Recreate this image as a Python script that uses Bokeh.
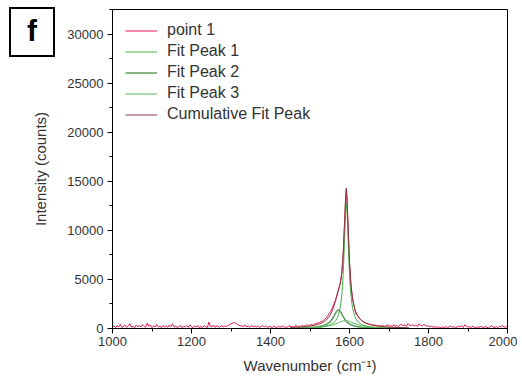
import numpy as np
from bokeh.plotting import figure
from bokeh.layouts import column
from bokeh.models import (SingleIntervalTicker, Range1d, Legend, LegendItem, Div)
from bokeh.embed import file_html
from bokeh.resources import INLINE

spec_x = np.arange(1000, 2001, 4)
spec_y = [
    120, 260, 80, 310, 150, 420, 90, 200, 340, 110,
    270, 480, 130, 220, 90, 350, 180, 300, 140, 390,
    210, 120, 560, 240, 330, 100, 280, 170, 410, 150,
    230, 90, 300, 160, 270, 120, 360, 200, 480, 140,
    250, 100, 190, 320, 80, 230, 150, 290, 110, 380,
    170, 90, 260, 140, 310, 70, 200, 120, 280, 180,
    90, 650, 220, 150, 340, 110, 260, 200, 130, 300,
    160, 240, 210, 300, 380, 470, 560, 610, 540, 420,
    330, 250, 280, 190, 350, 160, 240, 120, 300, 180,
    230, 140, 270, 100, 210, 320, 150, 260, 90, 200,
    170, 110, 240, 150, 80, 220, 130, 190, 260, 100,
    180, 120, 300, 160, 210, 90, 340, 180, 250, 200,
    310, 230, 280, 400, 260, 350, 420, 330, 470, 520,
    560, 620, 700, 780, 900, 1050, 1250, 1480, 1750, 2050,
    2450, 2850, 3400, 4000, 4500, 5500, 7600, 11300, 14300, 10900,
    6800, 4400, 3000, 2250, 1500, 1350, 1050, 900, 760, 640,
    580, 500, 470, 390, 420, 330, 360, 280, 310, 240,
    260, 330, 190, 280, 350, 220, 310, 180, 400, 250,
    300, 200, 360, 440, 270, 380, 230, 500, 320, 270,
    410, 240, 350, 190, 480, 300, 260, 420, 330, 220,
    280, 150, 240, 120, 200, 90, 180, 130, 60, 150,
    110, 200, 80, 170, 250, 120, 190, 70, 140, 220,
    160, 300, 100, 380, 230, 140, 200, 90, 260, 130,
    70, 180, 110, 210, 150, 90, 230, 120, 60, 170,
    280, 140, 100, 200, 80, 240, 160, 290, 110, 190,
    150,
]

fit_x = [1450, 1480, 1500, 1520, 1530, 1540, 1550, 1555, 1560, 1565, 1570, 1572,
         1575, 1578, 1581, 1584, 1587, 1590, 1592, 1594, 1597, 1600, 1603, 1606,
         1610, 1615, 1620, 1630, 1640, 1655, 1670, 1700, 1750]
peak1 = [31, 49, 73, 119, 160, 226, 343, 439, 580, 799, 1167, 1386,
         1841, 2540, 3660, 5498, 8411, 11738, 12700, 11738, 8411, 5498, 3660, 2540,
         1669, 1076, 747, 416, 265, 155, 101, 53, 25]
peak2 = [32, 56, 89, 164, 241, 380, 657, 892, 1216, 1597, 1870, 1900,
         1836, 1667, 1444, 1216, 1011, 837, 741, 657, 552, 468, 400, 344,
         286, 231, 190, 135, 100, 68, 49, 29, 15]
peak3 = [35, 56, 80, 124, 160, 212, 288, 339, 400, 472, 554, 588,
         640, 690, 734, 769, 792, 800, 796, 786, 759, 720, 673, 623,
         554, 472, 400, 288, 212, 141, 99, 56, 27]
cumulative = [98, 161, 242, 407, 561, 818, 1288, 1670, 2196, 2868, 3591, 3874,
              4317, 4897, 5838, 7483, 10214, 13375, 14237, 13181, 9722, 6686, 4733, 3507,
              2509, 1779, 1337, 839, 577, 364, 249, 138, 67]

series_names = ["point 1", "Fit Peak 1", "Fit Peak 2", "Fit Peak 3", "Cumulative Fit Peak"]
panel_tag = "f"
x_ticks_interval = 200
y_ticks_interval = 5000

FONT = "Liberation Sans"
TXT = "#333333"

p = figure(frame_width=395, frame_height=319,
           min_border_left=112, min_border_right=10, min_border_top=9, min_border_bottom=54,
           x_range=Range1d(1000, 2000), y_range=Range1d(0, 32500),
           output_backend="svg", toolbar_location=None,
           background_fill_color="white", border_fill_alpha=0)

p.outline_line_color = "black"
p.outline_line_width = 1
p.xgrid.visible = False
p.ygrid.visible = False

p.xaxis.ticker = SingleIntervalTicker(interval=x_ticks_interval, num_minor_ticks=2)
p.yaxis.ticker = SingleIntervalTicker(interval=y_ticks_interval, num_minor_ticks=2)

for ax in (p.xaxis[0], p.yaxis[0]):
    ax.axis_line_color = "black"
    ax.major_tick_line_color = "black"
    ax.minor_tick_line_color = "black"
    ax.major_tick_in = 0
    ax.major_tick_out = 5
    ax.minor_tick_in = 0
    ax.minor_tick_out = 3
    ax.major_label_text_font = FONT
    ax.major_label_text_font_size = "13px"
    ax.major_label_text_color = TXT
    ax.axis_label_text_font = FONT
    ax.axis_label_text_font_size = "15px"
    ax.axis_label_text_font_style = "normal"
    ax.axis_label_text_color = TXT

p.xaxis.axis_label = "Wavenumber (cm\u207b\u00b9)"
p.yaxis.axis_label = "Intensity (counts)"
p.xaxis.major_label_standoff = 3
p.yaxis.major_label_standoff = 4
p.xaxis.axis_label_standoff = 8
p.yaxis.axis_label_standoff = 15

r0 = p.line(spec_x, spec_y, line_color="#e5174f", line_width=1)
r1 = p.line(fit_x, peak1, line_color="#45b045", line_width=1)
r2 = p.line(fit_x, peak2, line_color="#5f9f5f", line_width=1.6)
r3 = p.line(fit_x, peak3, line_color="#58b458", line_width=1)
r4 = p.line(fit_x, cumulative, line_color="#8e3a46", line_width=1)

legend = Legend(items=[LegendItem(label=n, renderers=[r]) for n, r in
                       zip(series_names, [r0, r1, r2, r3, r4])],
                location=(13, 205), border_line_color=None, background_fill_alpha=0,
                margin=0, padding=0, spacing=3, glyph_width=32, glyph_height=17,
                label_height=17, label_standoff=10,
                label_text_font=FONT, label_text_font_size="16px", label_text_color=TXT)
p.add_layout(legend)

# panel letter box, drawn as a small HTML element in the top-left corner
tag = Div(text=panel_tag, width=46, height=50, margin=(7, 0, 0, 9),
          styles={"border": "2.5px solid black", "box-sizing": "border-box",
                  "font-family": FONT, "font-weight": "bold", "font-size": "30px",
                  "text-align": "center", "line-height": "44px", "color": "black",
                  "background-color": "white"})
p.margin = (-57, 0, 0, 0)

layout = column(tag, p)
open("out.html", "w").write(file_html(layout, INLINE))
